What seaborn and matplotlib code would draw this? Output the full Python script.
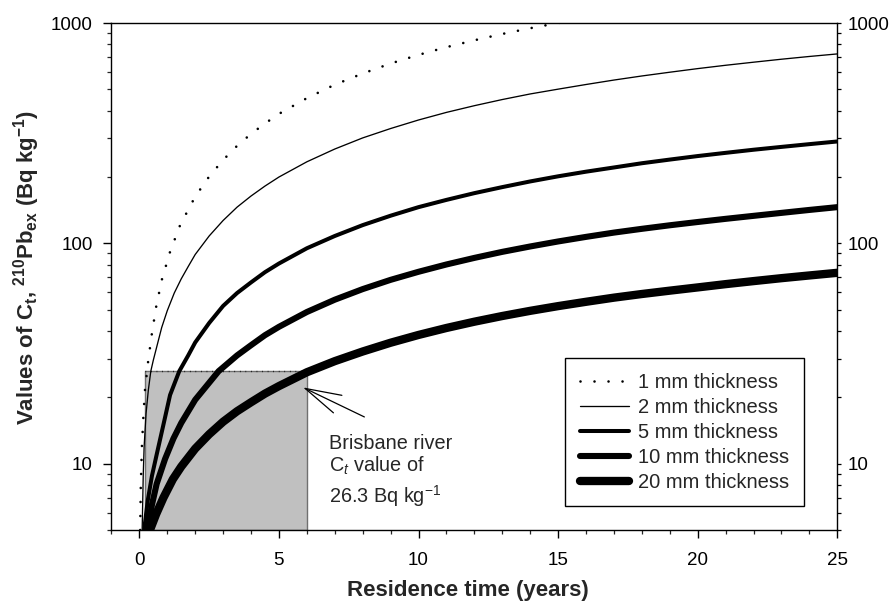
import matplotlib
matplotlib.use("Agg")
import matplotlib.pyplot as plt
import seaborn as sns
import numpy as np
import pandas as pd
from matplotlib.ticker import LogLocator, FixedLocator, NullFormatter, FixedFormatter

# ---------------- data ----------------
t_1mm = [0.03, 0.05, 0.09, 0.14, 0.20, 0.31, 0.44, 0.60, 0.80, 1.10, 1.46, 2.0, 2.5,
         3.0, 3.5, 4.0, 4.5, 5.0, 6.0, 7.0, 8.0, 9.0, 10.0, 11.0, 12.0, 13.0, 14.0, 15.0, 15.3]
c_1mm = [5.0, 7.8, 11.9, 16.0, 21.5, 28.8, 38.3, 51.4, 68.0, 91.6, 121, 163, 201,
         239, 277, 314, 350, 387, 456, 525, 590, 655, 717, 777, 835, 892, 947, 1000, 1016]

t_2mm = [0.10, 0.14, 0.17, 0.24, 0.32, 0.41, 0.50, 0.65, 0.80, 1.0, 1.25, 1.5, 1.75,
         2.0, 2.5, 3.0, 3.5, 4.0, 4.5, 5.0, 6.0, 7.0, 8.0, 9.0, 10.0, 11.0, 12.0,
         13.0, 14.0, 15.0, 16.0, 17.0, 18.0, 19.0, 20.0, 21.0, 22.0, 23.0, 24.0, 25.0]
c_2mm = [5.0, 9.0, 11.9, 16.9, 21.5, 26.3, 29.5, 35.0, 41.5, 49.5, 59.5, 69.0, 78.5,
         89.0, 108, 127, 146, 164, 182, 200, 234.5, 268, 301, 332, 363, 393, 421.5,
         449.5, 476.5, 501, 526, 551, 575, 598, 621, 643, 664, 685, 705, 724]

t_5mm = [0.17, 0.30, 0.45, 0.62, 0.86, 1.10, 1.43, 1.75, 2.0, 2.5, 3.0, 3.5, 4.0,
         4.5, 5.0, 6.0, 7.0, 8.0, 9.0, 10.0, 11.0, 12.0, 13.0, 14.0, 15.0, 16.0,
         17.0, 18.0, 19.0, 20.0, 21.0, 22.0, 23.0, 24.0, 25.0]
c_5mm = [5.0, 6.8, 8.8, 11.0, 15.0, 20.5, 26.3, 31.0, 35.5, 43.5, 52.0, 59.5, 66.5,
         74.0, 81.0, 95.0, 108, 121, 133.5, 146, 157.5, 169, 180, 191, 201.5, 211.5,
         221, 231, 240, 249, 257.5, 266, 274, 282, 290]

t_10mm = [0.30, 0.45, 0.62, 0.92, 1.22, 1.5, 2.0, 2.5, 2.84, 3.5, 4.0, 4.5, 5.0, 6.0,
          7.0, 8.0, 9.0, 10.0, 11.0, 12.0, 13.0, 14.0, 15.0, 16.0, 17.0, 18.0, 19.0,
          20.0, 21.0, 22.0, 23.0, 24.0, 25.0]
c_10mm = [5.0, 6.5, 8.1, 10.5, 13.0, 15.3, 19.5, 23.3, 26.3, 31.0, 34.5, 38.3, 41.8,
          48.8, 55.5, 62.0, 68.3, 74.3, 80.2, 85.9, 91.5, 96.8, 102, 107, 111.9, 116.4,
          120.8, 125, 129.2, 133.3, 137.5, 141.8, 146]

t_20mm = [0.38, 0.60, 0.86, 1.2, 1.5, 2.0, 2.5, 3.0, 3.5, 4.0, 4.5, 5.0, 6.0, 7.0,
          8.0, 9.0, 10.0, 11.0, 12.0, 13.0, 14.0, 15.0, 16.0, 17.0, 18.0, 19.0, 20.0,
          21.0, 22.0, 23.0, 24.0, 25.0]
c_20mm = [5.0, 5.9, 7.0, 8.5, 9.7, 11.7, 13.6, 15.5, 17.3, 19.0, 20.8, 22.5, 26.0,
          29.2, 32.3, 35.4, 38.4, 41.3, 44.1, 46.8, 49.4, 51.9, 54.3, 56.7, 58.9, 61.0,
          63.1, 65.3, 67.4, 69.5, 71.5, 73.5]

series_labels = ["1 mm thickness", "2 mm thickness", "5 mm thickness",
                 "10 mm thickness", "20 mm thickness"]

box_t = [0.2, 6.0]          # shaded region, residence time range
box_c = [5.0, 26.3]         # shaded region, Ct range
y_ticks = [10, 100, 1000]
y_ticklabels = ["10", "100", "1000"]
x_ticks = [0, 5, 10, 15, 20, 25]

# ---------------- style ----------------
sns.set_style("ticks")
plt.rcParams["font.family"] = ["Liberation Sans", "DejaVu Sans"]
plt.rcParams["mathtext.fontset"] = "custom"
plt.rcParams["mathtext.rm"] = "Liberation Sans"
plt.rcParams["mathtext.it"] = "Liberation Sans:italic"
plt.rcParams["mathtext.bf"] = "Liberation Sans:bold"

fig = plt.figure(figsize=(8.93, 6.01), dpi=100)
ax = fig.add_axes([0.1248, 0.1181, 0.8128, 0.8436])

# shaded box
ax.fill_between(box_t, [box_c[0]] * 2, [box_c[1]] * 2, facecolor="#c0c0c0",
                edgecolor="#707070", linewidth=1.0, zorder=1)
ax.plot(box_t, [box_c[1]] * 2, color="k", lw=1.0, linestyle=(0, (0.5, 3.5)), zorder=1.5)

styles = [
    dict(lw=1.9, linestyle=(0, (0.01, 5.3)), dash_capstyle="round"),
    dict(lw=0.95, linestyle="-"),
    dict(lw=2.9, linestyle="-", solid_capstyle="round", solid_joinstyle="round"),
    dict(lw=4.4, linestyle="-", solid_capstyle="round", solid_joinstyle="round"),
    dict(lw=6.0, linestyle="-", solid_capstyle="round", solid_joinstyle="round"),
]
data = [(t_1mm, c_1mm), (t_2mm, c_2mm), (t_5mm, c_5mm), (t_10mm, c_10mm), (t_20mm, c_20mm)]
for (tt, cc), lab, st in zip(data, series_labels, styles):
    df = pd.DataFrame({"t": tt, "c": cc})
    sns.lineplot(data=df, x="t", y="c", ax=ax, color="k", label=lab, zorder=3,
                 sort=True, estimator=None, **st)

ax.set_yscale("log")
ax.set_xlim(-1, 25)
ax.set_ylim(5, 1000)

ax.yaxis.set_major_locator(FixedLocator(y_ticks))
ax.yaxis.set_major_formatter(FixedFormatter(y_ticklabels))
ax.yaxis.set_minor_locator(LogLocator(base=10, subs=np.arange(2, 10)))
ax.yaxis.set_minor_formatter(NullFormatter())
ax.xaxis.set_major_locator(FixedLocator(x_ticks))
ax.xaxis.set_minor_locator(FixedLocator(np.arange(-1, 26, 1)))

for s in ax.spines.values():
    s.set_visible(True)
    s.set_linewidth(1.0)
    s.set_color("k")

ax.tick_params(axis="both", which="major", direction="out", length=5.5, width=1.0,
               labelsize=13.5, colors="k")
ax.tick_params(axis="both", which="minor", direction="out", length=3.1, width=0.9)
ax.tick_params(axis="x", which="major", pad=10)
ax.tick_params(axis="y", which="major", pad=8)
ax.tick_params(axis="y", which="both", right=False, labelright=False, left=True)
ax.tick_params(axis="x", which="both", top=False)

# right-hand duplicate y axis
ax2 = ax.twinx()
ax2.set_yscale("log")
ax2.set_ylim(5, 1000)
ax2.yaxis.set_major_locator(FixedLocator(y_ticks))
ax2.yaxis.set_major_formatter(FixedFormatter(y_ticklabels))
ax2.yaxis.set_minor_locator(LogLocator(base=10, subs=np.arange(2, 10)))
ax2.yaxis.set_minor_formatter(NullFormatter())
ax2.tick_params(axis="y", which="both", direction="out", length=3.0, width=0.9,
                labelsize=13.5, pad=4.2, colors="k")
for s in ax2.spines.values():
    s.set_visible(False)

ax.set_xlabel("Residence time (years)", fontsize=16, fontweight="bold")
ax.xaxis.set_label_coords(0.4917, -0.099)
ax.set_ylabel(r"Values of C$_\mathbf{t}$, $^\mathbf{210}$Pb$_\mathbf{ex}$ (Bq kg$^\mathbf{-1}$)",
              fontsize=16, fontweight="bold")
ax.yaxis.set_label_coords(-0.0956, 0.518)

# annotation
ax.annotate("", xy=(5.86, 22.2), xytext=(8.06, 16.3),
            arrowprops=dict(arrowstyle="->,head_length=2.6,head_width=0.7",
                            color="k", lw=0.9, shrinkA=0, shrinkB=0))
ax.text(6.8, 11.64, "Brisbane river", fontsize=14.3, ha="left", va="baseline")
ax.text(6.8, 9.15, r"C$_\mathit{t}$ value of", fontsize=14.3, ha="left", va="baseline")
ax.text(6.8, 6.62, r"26.3 Bq kg$^\mathrm{-1}$", fontsize=14.3, ha="left", va="baseline")

leg = ax.legend(loc="upper left", bbox_to_anchor=(0.625, 0.339), borderaxespad=0,
                fontsize=14.5, frameon=True, fancybox=False, edgecolor="k",
                handlelength=2.45, handletextpad=0.45, labelspacing=0.3, borderpad=0.72)
leg.get_frame().set_linewidth(1.0)
leg.get_frame().set_alpha(1)
leg.set_zorder(10)

fig.savefig("out.png", dpi=100)
